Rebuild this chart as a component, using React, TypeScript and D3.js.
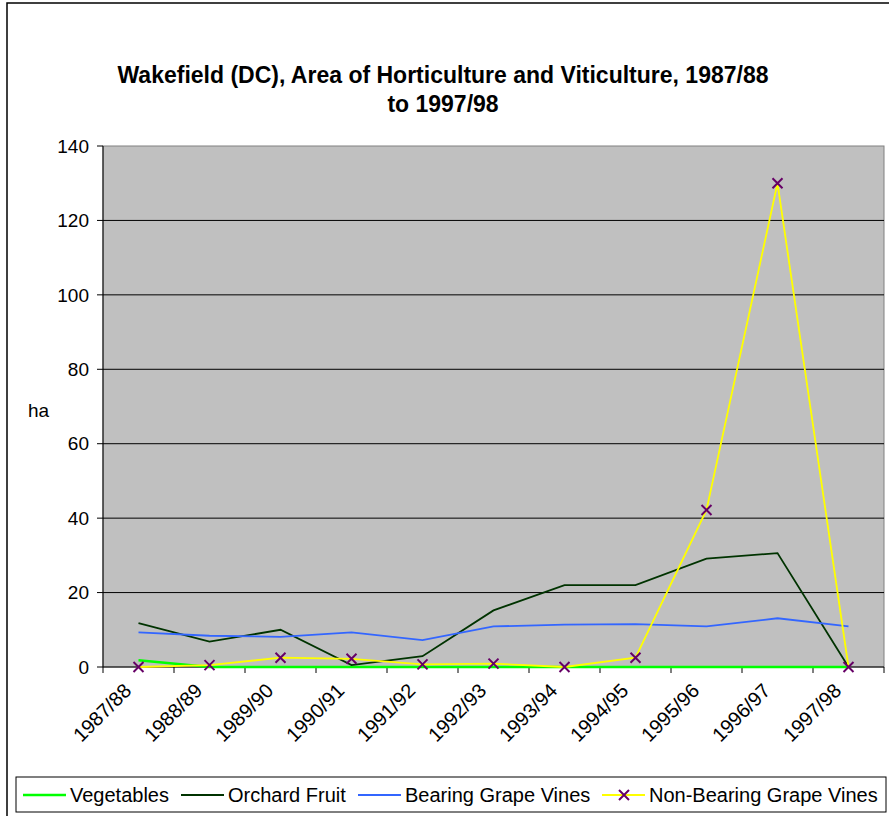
import * as d3 from "d3";
import { useMemo } from "react";

const WIDTH = 889;
const HEIGHT = 816;
const PLOT = { left: 103, right: 884, top: 146, bottom: 667 };

const categories = [
  "1987/88", "1988/89", "1989/90", "1990/91", "1991/92", "1992/93",
  "1993/94", "1994/95", "1995/96", "1996/97", "1997/98",
];
const vegetables = [1.8, 0, 0, 0, 0, 0, 0, 0, 0, 0, 0];
const orchardFruit = [11.8, 6.8, 10.0, 0.5, 2.9, 15.2, 22.0, 22.0, 29.1, 30.6, 0];
const bearingVines = [9.3, 8.4, 8.1, 9.3, 7.2, 10.9, 11.4, 11.5, 10.9, 13.1, 10.9];
const nonBearingVines = [0, 0.5, 2.5, 2.2, 0.7, 0.9, 0, 2.5, 42.2, 130, 0];
const yTicks = [0, 20, 40, 60, 80, 100, 120, 140];

const seriesList = [
  { name: "Vegetables", values: vegetables, color: "#00ff00", width: 2.5, marker: false },
  { name: "Orchard Fruit", values: orchardFruit, color: "#003300", width: 1.8, marker: false },
  { name: "Bearing Grape Vines", values: bearingVines, color: "#3366ff", width: 1.8, marker: false },
  { name: "Non-Bearing Grape Vines", values: nonBearingVines, color: "#ffff00", width: 1.8, marker: true },
];

const FONT = "'Liberation Sans', Arial, sans-serif";
const MARKER_COLOR = "#660066";

const Cross = ({ x, y }: { x: number; y: number }) => (
  <path
    d={`M${x - 5},${y - 5}L${x + 5},${y + 5}M${x - 5},${y + 5}L${x + 5},${y - 5}`}
    stroke={MARKER_COLOR}
    strokeWidth={2}
  />
);

export default function App() {
  const xScale = useMemo(
    () => d3.scaleBand().domain(categories).range([PLOT.left, PLOT.right]).padding(0),
    []
  );
  const yScale = useMemo(
    () => d3.scaleLinear().domain([0, 140]).range([PLOT.bottom, PLOT.top]),
    []
  );
  const cx = (c: string) => (xScale(c) || 0) + xScale.bandwidth() / 2;

  const lineBuilder = d3
    .line<number>()
    .x((_, i) => cx(categories[i]))
    .y((d) => yScale(d));

  // legend items: sample start x, text x
  const legendPos = [
    { x: 23, tx: 70 },
    { x: 181, tx: 228 },
    { x: 358, tx: 405 },
    { x: 602, tx: 649 },
  ];
  const legendY = 795;

  return (
    <svg
      width={WIDTH}
      height={HEIGHT}
      style={{ position: "absolute", left: 0, top: 0, display: "block", background: "#fff" }}
      fontFamily={FONT}
    >
      <rect x={7} y={3} width={WIDTH} height={HEIGHT} fill="#fff" stroke="#000" strokeWidth={1.5} />

      <text x={443} y={83} textAnchor="middle" fontSize={23} fontWeight="bold">
        Wakefield (DC), Area of Horticulture and Viticulture, 1987/88
      </text>
      <text x={443} y={112} textAnchor="middle" fontSize={23} fontWeight="bold">
        to 1997/98
      </text>

      {/* plot area */}
      <rect
        x={PLOT.left}
        y={PLOT.top}
        width={PLOT.right - PLOT.left}
        height={PLOT.bottom - PLOT.top}
        fill="#c0c0c0"
        stroke="#808080"
        strokeWidth={1}
      />
      {yTicks.filter((t) => t > 0 && t < 140).map((t) => (
        <line key={t} x1={PLOT.left} x2={PLOT.right} y1={yScale(t)} y2={yScale(t)} stroke="#000" strokeWidth={1} />
      ))}

      {/* axes */}
      <line x1={PLOT.left} x2={PLOT.left} y1={PLOT.top} y2={PLOT.bottom} stroke="#000" strokeWidth={1} />
      <line x1={PLOT.left} x2={PLOT.right} y1={PLOT.bottom} y2={PLOT.bottom} stroke="#000" strokeWidth={1} />
      {yTicks.map((t) => (
        <g key={t}>
          <line x1={PLOT.left - 6} x2={PLOT.left} y1={yScale(t)} y2={yScale(t)} stroke="#000" />
          <text x={89} y={yScale(t)} dy="0.35em" textAnchor="end" fontSize={19}>
            {t}
          </text>
        </g>
      ))}
      {[...categories.map((c) => xScale(c) || 0), PLOT.right].map((x, i) => (
        <line key={i} x1={x} x2={x} y1={PLOT.bottom} y2={PLOT.bottom + 6} stroke="#000" />
      ))}
      {categories.map((c) => (
        <text
          key={c}
          transform={`translate(${cx(c) - 6},${PLOT.bottom + 25}) rotate(-45)`}
          textAnchor="end"
          fontSize={20}
        >
          {c}
        </text>
      ))}
      <text x={28} y={417} fontSize={19}>ha</text>

      {/* series */}
      {seriesList.map((s) => (
        <g key={s.name}>
          <path d={lineBuilder(s.values) || ""} fill="none" stroke={s.color} strokeWidth={s.width} />
          {s.marker && s.values.map((v, i) => <Cross key={i} x={cx(categories[i])} y={yScale(v)} />)}
        </g>
      ))}

      {/* legend */}
      <rect x={16} y={777} width={870} height={35} fill="#fff" stroke="#000" strokeWidth={1} />
      {seriesList.map((s, i) => (
        <g key={s.name}>
          <line
            x1={legendPos[i].x}
            x2={legendPos[i].x + 43}
            y1={legendY}
            y2={legendY}
            stroke={s.color}
            strokeWidth={s.width}
          />
          {s.marker && <Cross x={legendPos[i].x + 22} y={legendY} />}
          <text x={legendPos[i].tx} y={legendY} dy="0.35em" fontSize={20}>
            {s.name}
          </text>
        </g>
      ))}
    </svg>
  );
}
